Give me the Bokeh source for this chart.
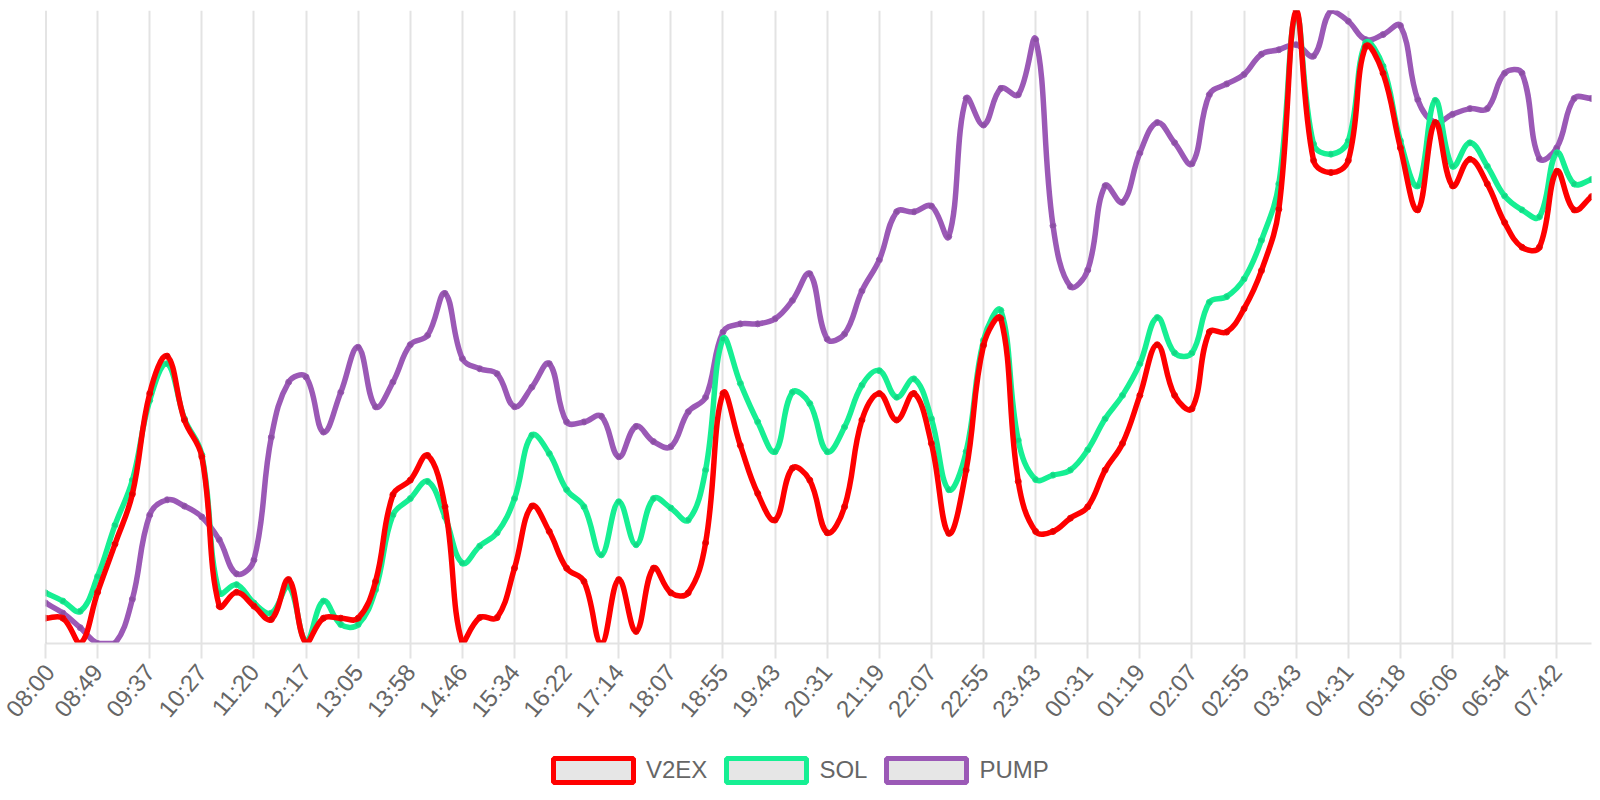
import math
from bokeh.plotting import figure
from bokeh.layouts import column
from bokeh.models import Range1d, FixedTicker, Span, Legend, LegendItem
from bokeh.embed import file_html
from bokeh.resources import INLINE

# ---------------- data ----------------
tick_labels = ["08:00", "08:49", "09:37", "10:27", "11:20", "12:17", "13:05", "13:58",
               "14:46", "15:34", "16:22", "17:14", "18:07", "18:55", "19:43", "20:31",
               "21:19", "22:07", "22:55", "23:43", "00:31", "01:19", "02:07", "02:55",
               "03:43", "04:31", "05:18", "06:06", "06:54", "07:42"]
label_step = 3

v2ex = [4.0, 4.0, 0.0, 8.1, 15.7, 23.6, 39.5, 45.4, 35.3, 29.5,
        5.9, 8.1, 5.9, 3.8, 10.1, 0.0, 4.0, 4.0, 4.0, 9.8,
        23.5, 25.8, 29.7, 21.6, 0.0, 4.1, 4.1, 11.9, 21.7, 17.7,
        11.9, 9.8, 0.0, 10.1, 1.9, 11.9, 8.0, 8.0, 15.9, 39.5,
        31.3, 23.7, 19.5, 27.7, 25.8, 17.5, 21.6, 35.3, 39.5, 35.3,
        39.5, 31.6, 17.4, 27.4, 47.1, 51.3, 25.6, 17.7, 17.7, 19.8,
        21.6, 27.4, 31.6, 39.2, 47.2, 39.2, 37.1, 49.2, 49.2, 52.9,
        58.9, 68.6, 100.0, 76.3, 74.4, 76.3, 94.3, 90.1, 78.3, 68.5,
        82.3, 72.3, 76.5, 72.6, 66.5, 62.6, 62.6, 74.6, 68.5, 70.6]

sol = [8.0, 6.7, 5.1, 10.6, 18.7, 25.8, 38.4, 44.2, 35.5, 29.8,
       8.0, 9.3, 6.4, 4.8, 9.0, 0.4, 6.7, 3.0, 3.0, 8.5,
       20.3, 22.9, 25.6, 20.0, 12.7, 15.4, 17.5, 22.9, 32.9, 30.0,
       24.3, 21.6, 14.0, 22.4, 15.6, 22.9, 21.4, 19.5, 27.4, 48.1,
       41.1, 35.0, 30.3, 39.7, 37.9, 30.3, 34.2, 40.8, 43.1, 38.9,
       41.8, 35.5, 24.3, 30.3, 47.9, 52.6, 32.1, 25.9, 26.6, 27.4,
       30.6, 35.5, 39.2, 44.2, 51.5, 45.9, 45.9, 53.9, 54.8, 57.6,
       63.7, 72.6, 99.5, 78.9, 77.3, 79.4, 94.9, 91.2, 79.4, 72.3,
       85.8, 75.4, 79.1, 75.4, 70.7, 68.5, 67.4, 77.5, 72.6, 73.3]

pump = [6.4, 4.8, 2.5, 0.0, 0.0, 7.0, 20.3, 22.7, 21.7, 20.0,
        16.4, 11.0, 13.2, 32.6, 41.3, 42.1, 33.4, 39.7, 46.8, 37.4,
        41.3, 47.2, 48.7, 55.3, 45.0, 43.4, 42.6, 37.4, 40.5, 44.2,
        35.0, 35.0, 35.9, 29.5, 34.3, 31.9, 31.1, 36.6, 38.9, 49.2,
        50.5, 50.5, 51.3, 54.2, 58.4, 48.1, 48.9, 55.7, 60.6, 68.2,
        68.2, 69.1, 64.3, 86.1, 81.9, 87.7, 86.7, 95.4, 66.0, 56.4,
        59.0, 72.3, 69.7, 77.5, 82.3, 79.1, 75.8, 86.7, 88.4, 89.9,
        93.1, 93.8, 94.6, 92.8, 100.0, 98.3, 95.4, 96.2, 97.6, 85.9,
        82.3, 83.6, 84.5, 84.5, 90.1, 90.1, 76.6, 78.3, 86.1, 86.1]

series_names = ["V2EX", "SOL", "PUMP"]
series_colors = ["#ff0000", "#16ef93", "#9b59b6"]
series_values = [v2ex, sol, pump]

# ---------------- main figure ----------------
W = 1600
H_MAIN, H_LEG = 743, 57
ML, MR, MT, MB = 45, 9, 10, 100
n = len(v2ex)
ymin = min(min(s) for s in series_values)
ymax = max(max(s) for s in series_values)

p = figure(width=W, height=H_MAIN, output_backend="svg", toolbar_location=None,
           x_range=Range1d(0, n - 1), y_range=Range1d(ymin, ymax),
           min_border_left=ML, min_border_right=MR, min_border_top=MT,
           min_border_bottom=MB)
p.outline_line_color = None
p.background_fill_color = "white"
p.border_fill_color = "white"

ticks = list(range(0, n, label_step))
p.xaxis.ticker = FixedTicker(ticks=ticks)
p.xaxis.major_label_overrides = {t: lab for t, lab in zip(ticks, tick_labels)}
p.xaxis.major_label_orientation = math.radians(50)
p.xaxis.major_label_text_font = "Liberation Sans"
p.xaxis.major_label_text_font_size = "24px"
p.xaxis.major_label_text_color = "#666666"
p.xaxis.major_label_standoff = 9
p.xaxis.axis_line_color = "#e3e3e3"
p.xaxis.axis_line_width = 2
p.xaxis.major_tick_line_color = "#e3e3e3"
p.xaxis.major_tick_line_width = 2
p.xaxis.major_tick_out = 15
p.xaxis.major_tick_in = 0
p.xaxis.minor_tick_line_color = None

p.xgrid.grid_line_color = "#e3e3e3"
p.xgrid.grid_line_width = 2
p.ygrid.visible = False
p.yaxis.visible = False

p.add_layout(Span(location=0, dimension="height", line_color="#c9c9c9", line_width=2))

# frame size in pixels, used for Chart.js-like spline control points
fw = W - ML - MR
fh = H_MAIN - MT - MB
sx = fw / (n - 1)
sy = fh / (ymax - ymin)
tension = 0.4


def spline(vals):
    xs = list(range(len(vals)))
    cpp, cpn = [], []
    last = len(vals) - 1
    for i in range(len(vals)):
        a = max(i - 1, 0)
        b = min(i + 1, last)
        d01 = math.hypot((xs[i] - xs[a]) * sx, (vals[i] - vals[a]) * sy)
        d12 = math.hypot((xs[b] - xs[i]) * sx, (vals[b] - vals[i]) * sy)
        tot = d01 + d12
        s01 = d01 / tot if tot else 0
        s12 = d12 / tot if tot else 0
        fa, fb = tension * s01, tension * s12
        dx, dy = xs[b] - xs[a], vals[b] - vals[a]
        px, py = xs[i] - fa * dx, vals[i] - fa * dy
        qx, qy = xs[i] + fb * dx, vals[i] + fb * dy
        cpp.append((min(max(px, 0), last), min(max(py, ymin), ymax)))
        cpn.append((min(max(qx, 0), last), min(max(qy, ymin), ymax)))
    return dict(x0=xs[:-1], y0=vals[:-1], x1=xs[1:], y1=vals[1:],
                cx0=[c[0] for c in cpn[:-1]], cy0=[c[1] for c in cpn[:-1]],
                cx1=[c[0] for c in cpp[1:]], cy1=[c[1] for c in cpp[1:]])


# draw last dataset first so V2EX ends on top (Chart.js order)
for name, color, vals in reversed(list(zip(series_names, series_colors, series_values))):
    seg = spline(vals)
    p.bezier(line_color=color, line_width=5.5, line_cap="round", **seg)
    p.scatter(x=list(range(len(vals))), y=vals, size=6, marker="circle",
              line_color=color, line_width=1, fill_color="black", fill_alpha=0.1)

# ---------------- legend strip ----------------
lp = figure(width=W, height=H_LEG, output_backend="svg", toolbar_location=None,
            x_range=Range1d(0, 1), y_range=Range1d(0, 1),
            min_border_left=0, min_border_right=0, min_border_top=0, min_border_bottom=0)
lp.outline_line_color = None
lp.axis.visible = False
lp.grid.visible = False
lp.background_fill_color = "white"
lp.border_fill_color = "white"

items = []
for name, color in zip(series_names, series_colors):
    # legend swatch renderer: one box placed outside the visible range of the strip
    r = lp.quad(left=[5], right=[6], top=[6], bottom=[5], fill_color="#e6e6e6",
                fill_alpha=1.0, line_color=color, line_width=5)
    items.append(LegendItem(label=name, renderers=[r]))

legend = Legend(items=items, orientation="horizontal", location=(498, 15),
                padding=0, margin=0, border_line_color=None, background_fill_alpha=0,
                glyph_width=100, glyph_height=30, label_height=30, label_standoff=3,
                spacing=9, label_text_font="Liberation Sans", label_text_font_size="24px",
                label_text_color="#666666")
lp.add_layout(legend, "center")

layout = column(p, lp, spacing=0)
open("out.html", "w").write(file_html(layout, INLINE))
